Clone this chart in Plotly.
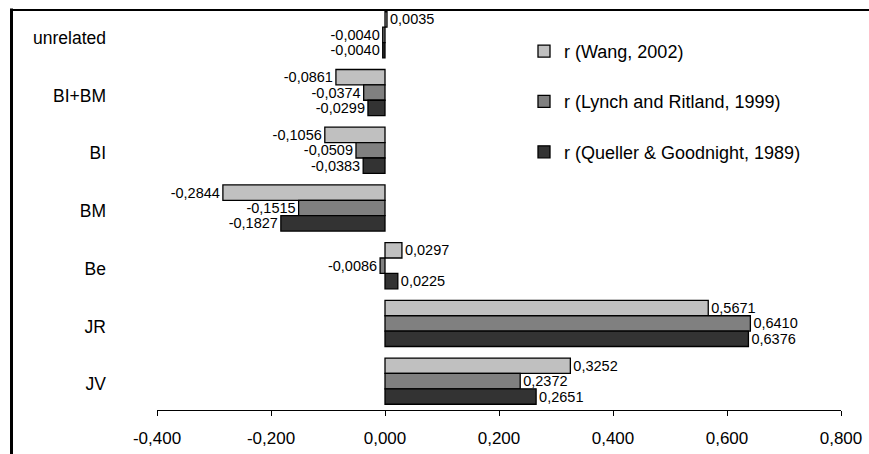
import plotly.graph_objects as go

categories = ["unrelated", "BI+BM", "BI", "BM", "Be", "JR", "JV"]
wang = [0.0035, -0.0861, -0.1056, -0.2844, 0.0297, 0.5671, 0.3252]
lynch = [-0.0040, -0.0374, -0.0509, -0.1515, -0.0086, 0.6410, 0.2372]
queller = [-0.0040, -0.0299, -0.0383, -0.1827, 0.0225, 0.6376, 0.2651]

series_names = ["r (Wang, 2002)", "r (Lynch and Ritland, 1999)", "r (Queller & Goodnight, 1989)"]
series_values = [wang, lynch, queller]
series_colors = ["#C0C0C0", "#808080", "#333333"]

x_tickvals = [-0.4, -0.2, 0.0, 0.2, 0.4, 0.6, 0.8]
x_ticktext = ["-0,400", "-0,200", "0,000", "0,200", "0,400", "0,600", "0,800"]

FONT = "Arial, Liberation Sans, sans-serif"


def fmt(v):
    return f"{v:.4f}".replace(".", ",")


fig = go.Figure()
for i, (name, vals, col) in enumerate(zip(series_names, series_values, series_colors)):
    fig.add_trace(go.Bar(
        name=name,
        y=categories,
        x=vals,
        orientation="h",
        marker=dict(color=col, line=dict(color="black", width=1.3)),
        text=[fmt(v) for v in vals],
        textposition="outside",
        constraintext="none",
        cliponaxis=False,
        textfont=dict(family=FONT, size=14.5, color="black"),
        legendgroup=f"g{i}",
    ))

W, H = 869, 454
ml, mr, mt, mb = 157, 28, 6, 42
pw, ph = W - ml - mr, H - mt - mb


def px_x(p):
    return (p - ml) / pw


def px_y(p):
    return (H - mb - p) / ph


fig.update_layout(
    width=W, height=H,
    margin=dict(l=ml, r=mr, t=mt, b=mb, pad=0),
    paper_bgcolor="white",
    plot_bgcolor="white",
    barmode="group",
    bargap=0.2,
    bargroupgap=0,
    font=dict(family=FONT, color="black", size=17),
    showlegend=True,
    legend=dict(
        x=px_x(524), y=px_y(33), xanchor="left", yanchor="top",
        traceorder="grouped", tracegroupgap=24,
        font=dict(family=FONT, size=18, color="black"),
        bgcolor="rgba(0,0,0,0)",
    ),
    xaxis=dict(
        range=[-0.4, 0.8],
        tickvals=x_tickvals,
        ticktext=x_ticktext,
        showline=True, linecolor="black", linewidth=1,
        ticks="outside", ticklen=5, tickcolor="black", tickwidth=1,
        showgrid=False, zeroline=False,
        tickfont=dict(family=FONT, size=17, color="black"),
        ticklabelstandoff=8,
    ),
    yaxis=dict(
        autorange="reversed",
        showline=False, showgrid=False, zeroline=False,
        ticks="",
        tickfont=dict(family=FONT, size=17.5, color="black"),
        ticklabelstandoff=50,
        ticklabelshift=-3,
    ),
    shapes=[
        dict(type="line", xref="paper", yref="paper",
             x0=px_x(11.5), x1=px_x(11.5), y0=px_y(8.5), y1=px_y(460),
             line=dict(color="black", width=3)),
        dict(type="line", xref="paper", yref="paper",
             x0=px_x(10), x1=px_x(875), y0=px_y(10), y1=px_y(10),
             line=dict(color="black", width=2)),
    ],
)

fig.write_html(
    "out.html",
    config={"displayModeBar": False},
    post_script="document.body.style.margin='0px';document.body.style.overflow='hidden';",
)
